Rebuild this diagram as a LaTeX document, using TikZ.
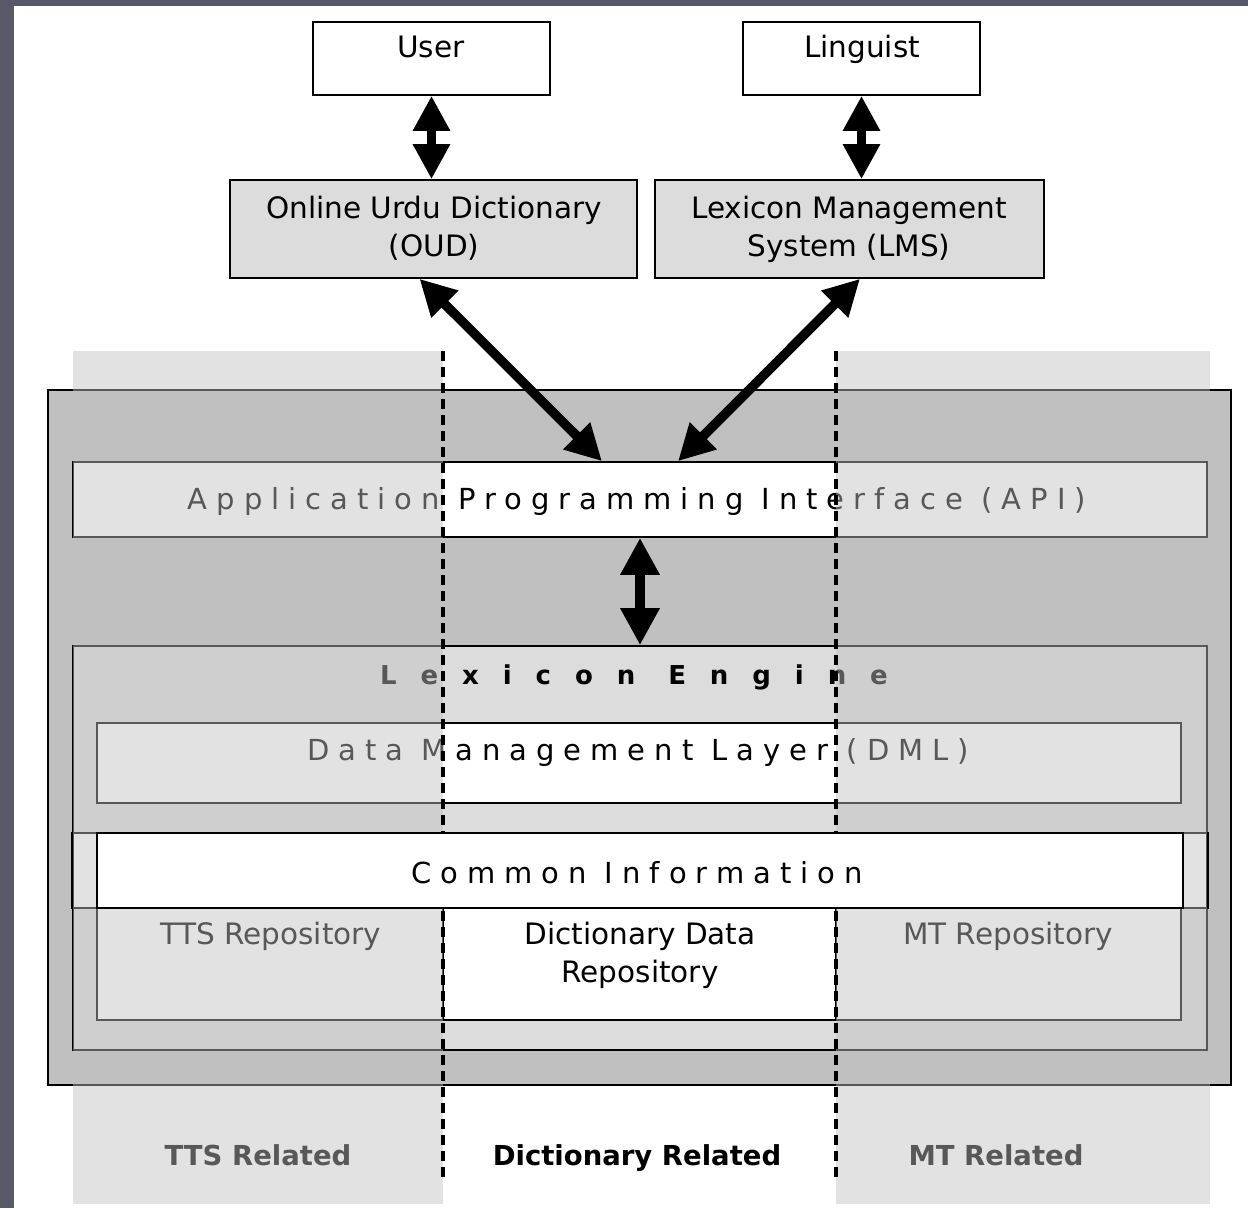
\documentclass[tikz,border=0pt]{standalone}
\usepackage{fontspec}
\setmainfont{DejaVu Sans}
\newfontfamily\widefont[LetterSpace=31]{DejaVu Sans}
\newfontfamily\widerfont[LetterSpace=92]{DejaVu Sans}
\usetikzlibrary{arrows.meta,calc}
\definecolor{slide}{RGB}{87,89,104}
\definecolor{enginegray}{RGB}{192,192,192}
\definecolor{panelgray}{RGB}{220,220,220}

\begin{document}
\begin{tikzpicture}[x=1pt,y=-1pt,
  box/.style={draw=black, line width=1.6pt, rectangle, inner sep=0pt, fill=white},
  txt/.style={inner sep=0pt, anchor=base, font=\fontsize{29.5}{38}\selectfont, align=center},
  spaced/.style={inner sep=0pt, anchor=base, font=\fontsize{29}{37}\selectfont\widefont},
  boldlabel/.style={inner sep=0pt, anchor=base, font=\fontsize{27.5}{32}\selectfont\bfseries},
  column/.style={fill=enginegray, fill opacity=0.46},
  divider/.style={line width=3.4pt, dash pattern=on 10pt off 6pt},
  twoway/.style={{Triangle[width=#1,length=#1]}-{Triangle[width=#1,length=#1]}, line width=9.5pt},
]
\useasboundingbox (0,0) rectangle (1248,1208);

% slide frame
\fill[slide] (0,0) rectangle (1248,6);
\fill[slide] (0,0) rectangle (14,1208);

% lexicon system container
\node[box, fill=enginegray, minimum width=1183pt, minimum height=695pt] (outer) at (639.5,737.5) {};
\node[box, minimum width=1134pt, minimum height=75pt] (api) at (640,499.5) {};
\node[spaced] (apitxt) at (637,509) {Application Programming Interface (API)};

\node[box, fill=panelgray, minimum width=1134pt, minimum height=404pt] (engine) at (640,848) {};
\node[inner sep=0pt, anchor=base, font=\fontsize{26}{30}\selectfont\widerfont\bfseries] (enginetxt) at (634,684) {Lexicon Engine};

\node[box, minimum width=1084pt, minimum height=80pt] (dml) at (639,763) {};
\node[spaced] (dmltxt) at (638,760) {Data Management Layer (DML)};

\node[box, minimum width=1134pt, minimum height=75pt] (cibase) at (640,870.5) {};

\node[box, minimum width=346pt, minimum height=112pt] (tts) at (270,964) {};
\node[box, minimum width=393pt, minimum height=112pt] (dict) at (639.5,964) {};
\node[box, minimum width=345pt, minimum height=112pt] (mt) at (1008.5,964) {};
\node[txt] (ttstxt) at (271,944) {TTS Repository};
\node[txt] (dicttxt) at (640,982) {Dictionary Data\\Repository};
\node[txt] (mttxt) at (1008,944) {MT Repository};

% column labels
\node[boldlabel] (ttsrel) at (258,1165) {TTS Related};
\node[boldlabel] (dictrel) at (637,1165) {Dictionary Related};
\node[boldlabel] (mtrel) at (996,1165) {MT Related};

% tinted side columns
\fill[column] (73,351) rectangle (443,1204);
\fill[column] (836,351) rectangle (1210,1204);

% column dividers
\coordinate (d1top) at (443,351);
\coordinate (d1bot) at (443,1182);
\coordinate (d2top) at (836,351);
\coordinate (d2bot) at (836,1182);
\draw[divider] (d1top) -- (d1bot);
\draw[divider] (d2top) -- (d2bot);

% shared data band
\draw[line width=1.6pt] (cibase.north west) -- (cibase.south west);
\draw[line width=1.6pt] (cibase.north east) -- (cibase.south east);
\node[box, minimum width=1086pt, minimum height=75pt] (common) at (640,870.5) {};
\node[spaced] (commontxt) at (637,883) {Common Information};

% applications and actors
\node[box, minimum width=237pt, minimum height=73pt] (user) at (431.5,58.5) {};
\node[txt] (usertxt) at (431,57) {User};
\node[box, minimum width=237pt, minimum height=73pt] (linguist) at (861.5,58.5) {};
\node[txt] (linguisttxt) at (862,57) {Linguist};

\node[box, fill=panelgray, minimum width=407pt, minimum height=98pt] (oud) at (433.5,229) {};
\node[txt] (oudtxt) at (434,256) {Online Urdu Dictionary\\(OUD)};
\node[box, fill=panelgray, minimum width=389pt, minimum height=98pt] (lms) at (849.5,229) {};
\node[txt] (lmstxt) at (849,256) {Lexicon Management\\System (LMS)};

% connections
\draw[twoway=35pt] (user.south) -- (user.south |- oud.north);
\draw[twoway=35pt] (linguist.south) -- (linguist.south |- lms.north);
\draw[twoway=36pt] ($(oud.south)+(-14,0)$) -- ($(api.north)+(-38,0)$);
\draw[twoway=36pt] ($(lms.south)+(10.5,0)$) -- ($(api.north)+(38,0)$);
\draw[twoway=37pt] (api.south) -- (engine.north);
\end{tikzpicture}
\end{document}
